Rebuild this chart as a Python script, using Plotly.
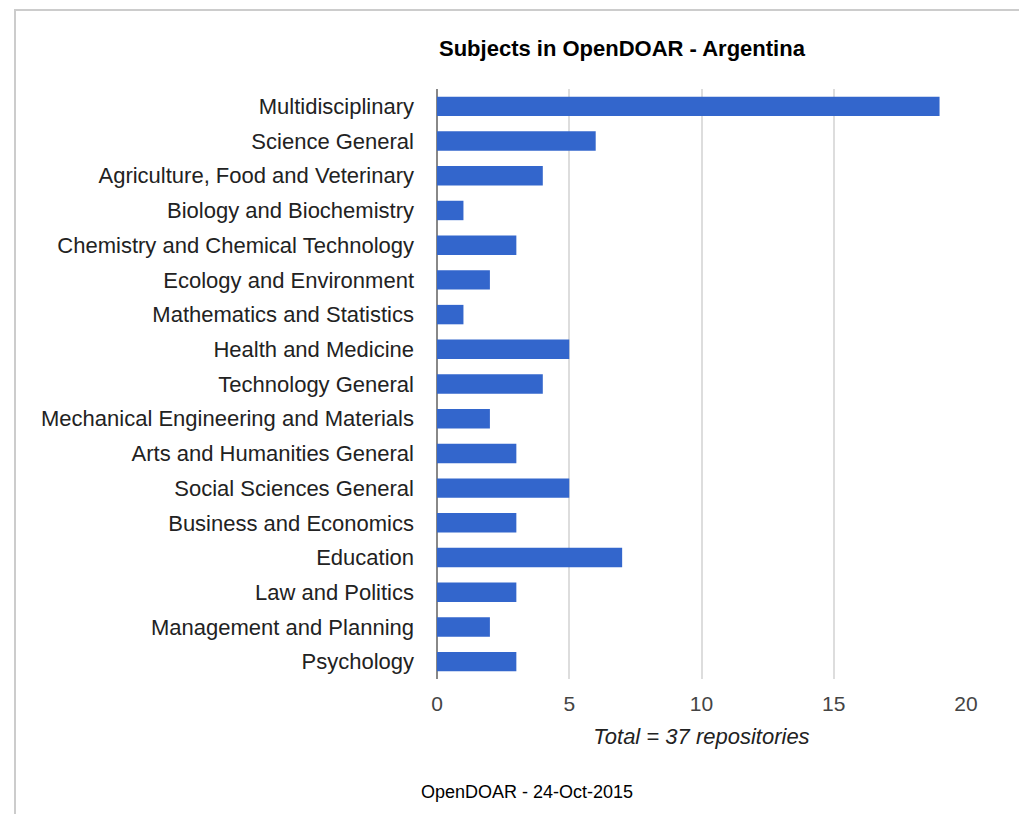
import plotly.graph_objects as go

categories = [
    "Multidisciplinary", "Science General", "Agriculture, Food and Veterinary",
    "Biology and Biochemistry", "Chemistry and Chemical Technology",
    "Ecology and Environment", "Mathematics and Statistics", "Health and Medicine",
    "Technology General", "Mechanical Engineering and Materials",
    "Arts and Humanities General", "Social Sciences General",
    "Business and Economics", "Education", "Law and Politics",
    "Management and Planning", "Psychology",
]
values = [19, 6, 4, 1, 3, 2, 1, 5, 4, 2, 3, 5, 3, 7, 3, 2, 3]
x_ticks = [0, 5, 10, 15, 20]

OFF = 8  # default page body margin
W, H = 1027 - OFF, 814 - OFF
# target plot area in screenshot pixels
PL, PR, PT, PB = 437, 966, 89, 679
L, R, T, B = PL - OFF, W - (PR - OFF), PT - OFF, H - (PB - OFF)
pw, ph = W - L - R, H - T - B

def px_x(p):
    return (p - PL) / pw

def px_y(p):
    return (PB - p) / ph

fig = go.Figure(go.Bar(
    x=values, y=categories, orientation="h",
    marker=dict(color="#3366cc", line=dict(width=0)),
    hoverinfo="x+y",
))

font = "Liberation Sans, Arial, sans-serif"
fig.update_layout(
    width=W, height=H,
    margin=dict(l=L, r=R, t=T, b=B),
    paper_bgcolor="white", plot_bgcolor="white",
    bargap=0.44,
    showlegend=False,
    font=dict(family=font, size=22, color="#222222"),
    xaxis=dict(
        range=[0, 20], tickvals=x_ticks, showgrid=True, gridcolor="#dddddd",
        gridwidth=2, zeroline=True, zerolinecolor="#888888", zerolinewidth=2,
        showline=False, ticks="", ticklabelstandoff=10,
        tickfont=dict(size=21, color="#444444"),
        title=dict(text="<i>Total = 37 repositories</i>", standoff=14,
                   font=dict(size=22, color="#222222")),
        fixedrange=True,
    ),
    yaxis=dict(
        autorange="reversed", ticks="", showgrid=False, ticklabelstandoff=22,
        tickfont=dict(size=22, color="#222222"), fixedrange=True,
    ),
    annotations=[
        dict(text="<b>Subjects in OpenDOAR - Argentina</b>", xref="paper", yref="paper",
             x=px_x(622), y=px_y(48), xanchor="center", yanchor="middle",
             showarrow=False, font=dict(size=22, color="#000000", family=font)),
        dict(text="OpenDOAR - 24-Oct-2015", xref="paper", yref="paper",
             x=px_x(527), y=px_y(792), xanchor="center", yanchor="middle",
             showarrow=False, font=dict(size=18, color="#000000", family=font)),
    ],
    shapes=[
        dict(type="rect", xref="paper", yref="paper",
             x0=px_x(15), x1=px_x(1040), y0=px_y(830), y1=px_y(10),
             line=dict(color="#cccccc", width=2), layer="below"),
    ],
)

fig.write_html("out.html")
